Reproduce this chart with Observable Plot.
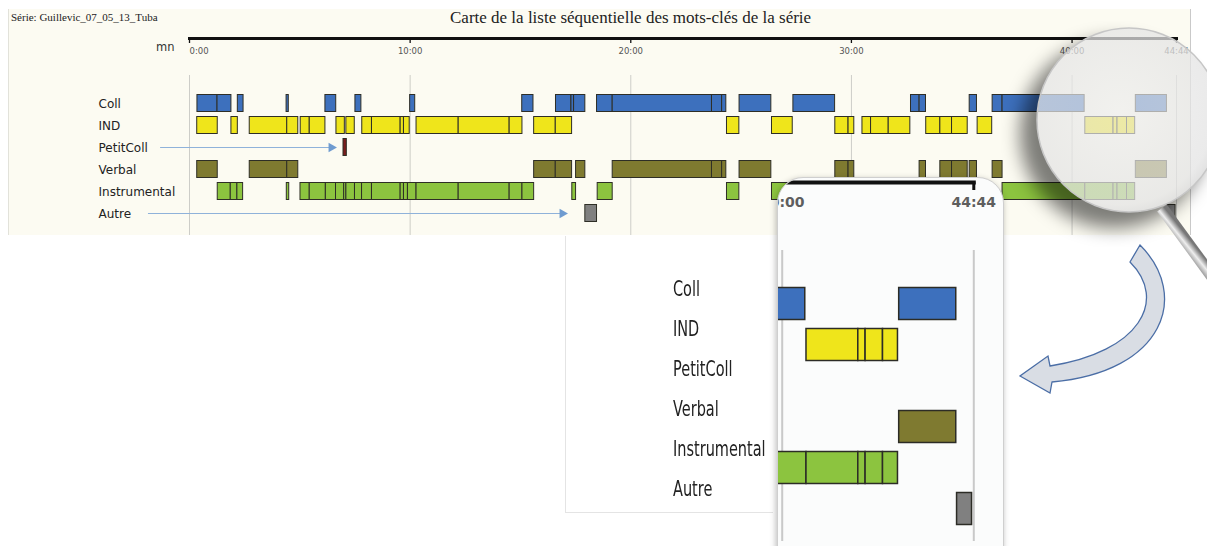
<!DOCTYPE html>
<html><head><meta charset="utf-8">
<script src="https://cdn.jsdelivr.net/npm/d3@7"></script>
<script src="https://cdn.jsdelivr.net/npm/@observablehq/plot@0.6"></script>
<style>
html,body{margin:0;padding:0;background:#fff;}
#page{position:relative;width:1207px;height:546px;overflow:hidden;background:#fff;}
.abs{position:absolute;}
#panel{left:8px;top:9px;width:1181px;height:226px;background:#fcfbf2;border-left:1px solid #e2e2da;border-right:1px solid #c9c9c9;}
#serie{left:11px;top:11px;font:11px "Liberation Serif",serif;color:#222;white-space:nowrap;}
#title{left:450px;top:8px;font:17px "Liberation Serif",serif;color:#222;white-space:nowrap;}
#mn{left:156px;top:40px;font:11.5px "DejaVu Sans",sans-serif;color:#333;}
#labbox{left:565px;top:236px;width:207px;height:276px;background:#fff;border-left:1px solid #e4e4e4;border-bottom:1px solid #e4e4e4;}
.lab{position:absolute;left:107px;font:21px "DejaVu Sans",sans-serif;color:#222;transform:scaleX(0.69);transform-origin:0 50%;white-space:nowrap;line-height:24px;}
#insetbox{left:777px;top:177px;width:225px;height:400px;border-radius:26px;overflow:hidden;background:#fbfcfc;border:1px solid #cfcfcf;box-shadow:-1px 2px 6px rgba(0,0,0,0.28);}
</style></head><body>
<div id="page">
  <div id="panel" class="abs"></div>
  <div id="serie" class="abs">Série: Guillevic_07_05_13_Tuba</div>
  <div id="title" class="abs">Carte de la liste séquentielle des mots-clés de la série</div>
  <div id="mn" class="abs">mn</div>
  <div id="main" class="abs" style="left:0;top:0"></div>
  <div id="labbox" class="abs"></div>
  <div id="insetbox" class="abs"></div>
  <svg id="deco" class="abs" width="1207" height="546" style="left:0;top:0;pointer-events:none">
    <defs>
      <filter id="blur" x="-50%" y="-50%" width="200%" height="200%"><feGaussianBlur stdDeviation="9"/></filter>
      <mask id="outside"><rect width="1207" height="546" fill="white"/><circle cx="1129" cy="120" r="92" fill="black"/></mask>
      <radialGradient id="glass" cx="0.45" cy="0.45" r="0.6">
        <stop offset="0" stop-color="#ececec" stop-opacity="0.66"/>
        <stop offset="0.85" stop-color="#e3e3e3" stop-opacity="0.74"/>
        <stop offset="1" stop-color="#d6d6d6" stop-opacity="0.85"/>
      </radialGradient>
      <linearGradient id="hg" gradientUnits="userSpaceOnUse" x1="1195" y1="246" x2="1185" y2="254">
        <stop offset="0" stop-color="#777"/><stop offset="0.45" stop-color="#eee"/><stop offset="1" stop-color="#8a8a8a"/>
      </linearGradient>
    </defs>
    <g mask="url(#outside)"><circle cx="1114" cy="134" r="94" fill="rgba(0,0,0,0.5)" filter="url(#blur)"/></g>
    <line x1="1162" y1="208" x2="1222" y2="290" stroke="url(#hg)" stroke-width="12"/>
    <circle cx="1129" cy="120" r="92" fill="url(#glass)" stroke="#c6c6c6" stroke-width="1.5"/>
    <path d="M1130 262 L1140 245 C1190 295 1165 372 1052 382 L1050 393 L1020 376 L1048 356 L1050 366 C1140 352 1168 300 1130 262 Z" fill="#d9dde4" stroke="#4b6ea6" stroke-width="1.3"/>
  </svg>
</div>
<script>
const END = 44 + 44/60;
const categories = ["Coll","IND","PetitColl","Verbal","Instrumental","Autre"];
const colors = ["#3d70bd","#efe51b","#7a1d1d","#7f7a30","#8cc43f","#808080"];
const tickValues = [0,10,20,30,40,END];
const tickLabels = ["0:00","10:00","20:00","30:00","40:00","44:44"];

// segments [start, end] in minutes
const coll = [[0.36,1.27],[1.27,1.90],[2.19,2.45],[4.40,4.50],[6.16,6.65],[7.52,7.79],[10.00,10.23],[15.08,15.59],[16.61,17.31],[17.31,17.43],[17.43,17.94],[18.47,19.18],[19.18,23.68],[23.68,24.14],[24.14,24.33],[24.93,26.37],[27.37,29.26],[32.70,33.09],[33.09,33.38],[35.36,35.69],[36.40,36.85],[36.85,40.57],[42.89,44.30]];
const ind = [[0.35,1.28],[1.90,2.19],[2.73,4.43],[4.43,4.93],[5.04,5.45],[5.45,6.16],[6.66,7.04],[7.11,7.49],[7.83,8.27],[8.27,9.57],[9.57,9.72],[9.72,9.98],[10.29,12.20],[12.20,14.51],[14.51,15.09],[15.62,16.60],[16.60,17.34],[24.36,24.92],[26.40,27.34],[29.27,29.87],[29.87,30.13],[30.50,30.89],[30.89,31.69],[31.69,32.67],[33.39,34.03],[34.03,34.56],[34.56,35.27],[35.72,36.38],[40.60,41.88],[41.88,42.06],[42.06,42.49],[42.49,42.86]];
const petitColl = [[6.98,7.13]];
const verbal = [[0.35,1.28],[2.73,4.43],[4.43,4.93],[15.62,16.60],[16.60,17.34],[17.52,17.94],[19.18,23.68],[23.68,24.14],[24.14,24.33],[24.93,26.37],[29.27,29.87],[29.87,30.13],[33.09,33.38],[34.03,34.56],[34.56,35.27],[35.36,35.69],[36.40,36.85],[42.89,44.30]];
const instrumental = [[1.28,1.87],[1.87,2.17],[2.17,2.43],[4.41,4.52],[5.03,5.45],[5.45,6.18],[6.18,6.64],[6.64,7.01],[7.01,7.11],[7.11,7.50],[7.50,7.82],[7.82,8.27],[8.27,9.57],[9.57,9.72],[9.72,9.90],[9.90,10.29],[10.29,12.20],[12.20,14.51],[14.51,15.09],[15.09,15.62],[17.35,17.52],[18.50,19.18],[24.36,24.92],[26.40,27.34],[36.85,40.60],[40.60,41.88],[41.88,42.06],[42.06,42.49],[42.49,42.86]];
const autre = [[17.94,18.47],[44.32,44.69]];

// pointer arrows (label -> first bar), minutes
const arrowCats = ["PetitColl","Autre"];
const arrowFrom = [-1.31,-1.86];
const arrowTo = [6.43,16.9];

const bySeries = [coll, ind, petitColl, verbal, instrumental, autre];
const segments = categories.flatMap((c,i) => bySeries[i].map(([s,e]) => ({cat:c, start:s, end:e})));
const arrows = arrowCats.map((c,i) => ({cat:c, from:arrowFrom[i], to:arrowTo[i]}));

const main = Plot.plot({
  width: 1207, height: 236, marginLeft: 189, marginRight: 31, marginTop: 38, marginBottom: 1,
  style: {background:"transparent", fontFamily:"DejaVu Sans", overflow:"visible"},
  x: {domain:[0, END], axis:null},
  y: {type:"band", domain:categories, range:[92,224], padding:0, axis:null},
  color: {domain:categories, range:colors},
  marks: [
    Plot.ruleX(tickValues, {stroke:"#cdcdc8", strokeWidth:1, insetTop:37}),
    Plot.frame({anchor:"top", stroke:"#111", strokeWidth:3}),
    Plot.ruleX(tickValues, {stroke:"#111", strokeWidth:1.3, insetBottom:192}),
    Plot.text([0], {x:i=>tickValues[i], text:i=>tickLabels[i], frameAnchor:"top", dy:9, textAnchor:"start", fontSize:8.5, fill:"#555"}),
    Plot.text([1,2,3,4,5], {x:i=>tickValues[i], text:i=>tickLabels[i], frameAnchor:"top", dy:9, fontSize:8.5, fill:"#555"}),
    Plot.ruleY(arrows, {x1:"from", x2:"to", y:"cat", stroke:"#8fb2da", strokeWidth:1.2}),
    Plot.dot(arrows, {x:"to", y:"cat", symbol:"triangle", rotate:90, r:3.6, fill:"#6f9bd0", stroke:"none"}),
    Plot.barX(segments, {x1:"start", x2:"end", y:"cat", fill:"cat", stroke:"#2e2e26", strokeWidth:1, insetTop:2.5, insetBottom:2.5}),
    Plot.text(categories, {y:d=>d, text:d=>d, frameAnchor:"left", dx:-91, dy:1, textAnchor:"start", fontSize:12, fill:"#222"})
  ]
});
document.getElementById("main").appendChild(main);

// label box
const lb = document.getElementById("labbox");
categories.forEach((c,i) => {
  const s = document.createElement("div");
  s.className = "lab"; s.textContent = c;
  s.style.top = (41 + i*40) + "px";
  lb.appendChild(s);
});

const inset = Plot.plot({
  width: 225, height: 370, marginLeft: 0, marginRight: 29.7, marginTop: 4, marginBottom: 7,
  style: {background:"transparent", fontFamily:"DejaVu Sans", overflow:"visible"},
  x: {domain:[40, END], range:[3.7,195.3], axis:null},
  y: {type:"band", domain:categories, range:[105.3,351.3], padding:0, axis:null},
  color: {domain:categories, range:colors},
  marks: [
    Plot.ruleX([40, END], {stroke:"#c9c9c9", strokeWidth:2, insetTop:68}),
    Plot.frame({anchor:"top", stroke:"#111", strokeWidth:4}),
    Plot.ruleX([END], {stroke:"#111", strokeWidth:3, insetBottom:351}),
    Plot.text([4,5], {x:i=>tickValues[i], text:i=>tickLabels[i], frameAnchor:"top", dy:15, fontSize:14, fontWeight:"bold", fill:"#5e5e5e"}),
    Plot.barX(segments, {x1:"start", x2:"end", y:"cat", fill:"cat", stroke:"#2c2c26", strokeWidth:1.5, insetTop:4.5, insetBottom:4.5, clip:true})
  ]
});
document.getElementById("insetbox").appendChild(inset);
</script>
</body></html>
